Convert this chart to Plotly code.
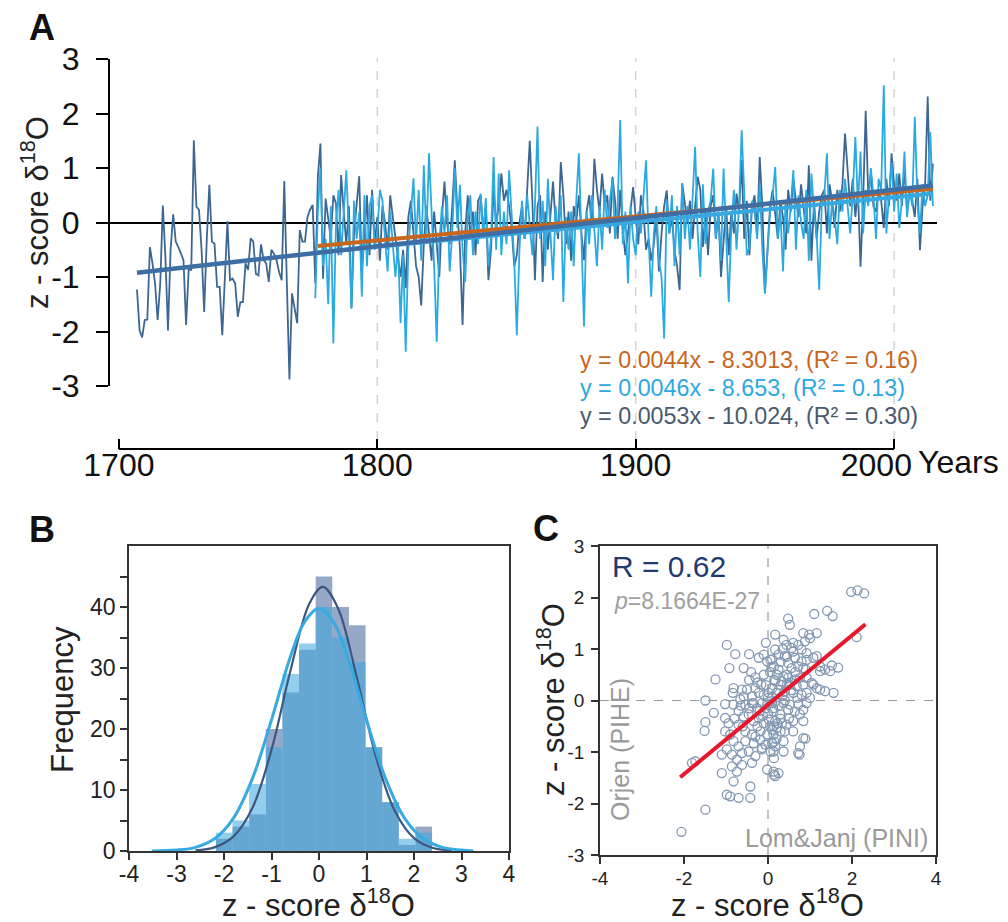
import plotly.graph_objects as go

# page body has an 8px margin, so the figure is 1000x914 and positions are shifted
OFF = 8
W, H = 1000, 914
FONT = "Liberation Sans, Arial, sans-serif"

# ---- panel A: annual z-scores of d18O ----
dark_start = 1707
dark_z = [
    -1.23, -1.98, -2.11, -1.79, -1.78, -0.45, -0.75, -1.12, -1.79, -1.12,
    0.31, -0.63, -1.98, -0.51, 0.15, -0.35, -0.45, -0.57, -0.69, -1.88,
    -0.87, -0.87, 1.51, 0.29, 0.23, -0.51, -1.64, -0.32, 0.69, -0.35,
    -0.39, -1.18, -1.18, -2.07, -1.12, 0.02, -1.06, -1.03, -1.12, -1.73,
    -1.46, -1.46, -0.75, -0.87, -0.29, -0.35, -0.94, -0.97, -0.40, -0.69,
    -0.75, -1.09, -0.50, -0.57, -0.69, -0.91, -1.06, 0.76, -1.12, -2.88,
    -1.30, -1.55, -1.85, -0.14, -0.35, -0.35, 0.10, 0.24, 0.32, -1.12,
    0.84, 1.45, -1.03, 0.44, 0.10,
    -0.3, 0.5, 0.35, -0.6, 0.87, 0.2, -0.4, 0.3,
    -1.57, -0.2, 0.4, 0.85, -0.9, -0.3, 0.5, -0.6, 0.6, -0.4,
    0.1, -0.7, 0.3, 0.0, -0.5, 0.5, 0.1, -0.3, -0.6, -1.0,
    -0.5, -1.2, 0.1, 0.4, -0.2, -0.8, -1.0, -1.52, -0.4, 0.3,
    -0.2, -0.7, 0.2, -0.5, -1.0, 0.1, 0.75, 0.0, -0.4, 0.3,
    1.14, 0.2, -0.5, -1.88, -0.2, 0.5, -0.3, 0.2, -0.6, 0.4,
    0.5, -0.2, 0.3, -1.06, -0.5, 0.6, 0.0, 0.3, 0.9, 0.4,
    0.6, 0.3, -0.1, -0.8, -0.6, 0.0, 0.3, -0.3, 0.7, 1.50,
    0.4, -1.06, 0.3, 0.5, -1.09, 0.2, -0.5, 0.1, 0.75, 0.0,
    -0.3, 1.11, 0.5, -0.4, 0.2, -0.7, 0.3, 0.0, 0.5, -0.2,
    -0.69, 0.2, 0.5, -0.1, 1.17, 0.6, 0.2, 0.9, 0.3, 0.5,
    -0.2, 0.84, 0.4, -0.3, 0.6, -0.14, -0.6, -0.2, 0.2, 0.65,
    0.1, -0.4, 0.5, 0.2, -0.5, -0.3, -0.7, -0.4, 0.1, -0.9,
    -0.2, 0.3, 0.59, -0.2, 0.1, -0.5, -0.8, -1.24, 0.72, 0.3,
    0.0, 0.4, -0.3, 0.3, 0.84, 0.6, -0.45, 0.2, -0.6, 0.3,
    0.5, -0.3, 0.2, -1.0, -0.4, 0.3, -0.6, 0.2, -0.2, 0.53,
    0.2, 1.14, -0.3, 0.4, -0.6, 0.3, 0.5, -0.2, 1.2, 0.3,
    -1.3, -0.4, 0.3, 0.6, 0.2, -0.3, 0.4, 0.1, -0.5, 0.6,
    0.2, 0.8, 0.4, 0.1, 0.7, 0.3, -0.2, 1.05, -0.7, 0.4,
    -0.3, 0.2, 0.5, 0.6, -0.2, 0.7, 0.4, -0.1, 0.6, 0.2,
    0.7, 1.63, 0.9, 0.3, 0.8, 0.1, 0.6, -0.81, 0.4, 2.05,
    0.5, 0.9, 0.3, 0.2, 0.6, 0.4, -0.1, 0.8, 0.3, 1.27,
    0.7, 0.4, 0.9, 0.3, 1.0, 0.2, 0.6, 0.4, 0.1, 0.8,
    -0.51, 0.3, 0.7, 2.31, 0.4, 1.08,
]
light_start = 1776
light_z = [
    -1.39, 0.2, 1.0, -0.8,
    -0.3, -1.5, 0.3, -2.22, 0.0, 0.6, -0.6, 0.2, 0.96, -0.2,
    -1.58, 0.4, -0.3, 0.2, -1.36, 0.5, -0.8, 0.3, 0.5, -0.5,
    -0.2, 0.6, 0.4, -0.3, -0.9, 0.2, -0.5, -1.0, -0.4, -1.85,
    -0.6, -2.37, -0.5, 0.2, 0.81, -0.4, 0.6, -0.7, 1.05, -0.3,
    1.27, 0.2, -0.8, -2.19, -0.4, 0.3, -0.2, 0.5, -0.9, -0.2,
    0.99, -0.1, 0.69, -0.5, -1.09, 0.1, 0.5, -0.6, 0.2, -0.4,
    0.53, -0.2, 0.45, -0.8, -0.3, 1.20, -0.5, 0.90, -0.6, 0.2,
    -0.4, 0.96, 0.1, -0.7, -2.07, -0.5, 0.4, -0.3, 0.5, -0.1,
    -0.6, 0.3, 1.76, -0.3, 0.4, -0.8, 0.8, -0.2, -1.06, 0.3,
    -0.2, 0.5, -1.46, 0.1, -0.5, 0.2, -0.8, 0.4, 1.27, -0.3,
    -1.91, 0.2, -0.4, 0.5, -0.2, -0.8, 0.3, -0.5, 0.6, -0.1,
    0.4, 0.8, -0.3, 0.3, 1.88, -0.4, 0.2, -1.12, 0.3, -0.3,
    -0.6, 0.2, -0.2, 0.5, 1.14, -0.3, -1.36, -0.2, 0.3, -0.7,
    -1.0, -2.13, 0.4, -0.2, 0.5, -0.8, 0.3, -0.6, 0.72, -0.3,
    0.3, -0.5, 0.5, 1.39, -0.2, -1.0, 0.7, -0.4, 0.2, 0.4,
    0.99, -0.3, 0.2, -0.7, 0.99, -0.2, -1.46, -0.1, 0.6, -0.5,
    0.3, 1.69, 0.6, -0.6, -0.45, 0.4, 0.2, -0.3, 0.7, -0.5,
    -1.30, -0.6, 0.2, 0.5, 1.02, -0.3, 0.2, -0.9, 0.4, -0.2,
    0.3, 0.96, -0.5, 0.5, 0.0, -0.3, 0.6, -0.7, 0.9, 0.2,
    -0.2, -1.24, 0.3, 0.5, 1.27, -0.3, 0.4, 0.1, -0.4, 0.6,
    0.2, 0.8, 0.3, -0.2, 0.5, 1.57, 0.3, 1.3, -0.2, 0.6,
    0.3, 1.0, 0.5, -0.3, 0.8, 0.6, 2.52, -0.2, 0.5, 1.1,
    0.2, 0.9, -0.1, 0.4, 1.3, 0.1, 0.6, 0.3, 1.94, 0.4,
    -0.2, 0.7, 0.3, 0.5, 1.66, 0.3,
]
dark_years = list(range(dark_start, dark_start + len(dark_z)))
light_years = list(range(light_start, light_start + len(light_z)))

# linear trends (end points)
trend_dark_years, trend_dark_z = [1707, 2015], [-0.92, 0.68]
trend_light_years, trend_light_z = [1777, 2015], [-0.55, 0.53]
trend_orange_years, trend_orange_z = [1777, 2015], [-0.43, 0.62]

year_ticks = [1700, 1800, 1900, 2000]
year_labels = ["1700", "1800", "1900", "2000\u00a0\u00a0\u00a0\u00a0"]

eq_orange = "y = 0.0044x - 8.3013, (R² = 0.16)"
eq_light = "y = 0.0046x - 8.653, (R² = 0.13)"
eq_dark = "y = 0.0053x - 10.024, (R² = 0.30)"

# ---- panel B: histograms + normal fits ----
bin_centers = [-1.995, -1.645, -1.295, -0.945, -0.595, -0.245, 0.105,
               0.455, 0.805, 1.155, 1.505, 1.855, 2.205]
counts_dark = [2, 4, 6, 20, 26, 33, 45, 40, 37, 17, 8, 1, 4]
counts_light = [3, 5, 11, 17, 29, 34, 40, 35, 31, 17, 8, 2, 3]

fit_dark_x = [-2.6, -2.2, -1.8, -1.4, -1.0, -0.6, -0.2, 0.08, 0.4, 0.8, 1.2, 1.6, 2.0, 2.4, 2.8]
fit_dark_y = [0.1, 0.6, 2.4, 7.1, 16.6, 29.6, 40.6, 43.3, 39.8, 28.3, 15.4, 6.5, 2.1, 0.5, 0.1]
fit_light_x = [-3.52, -3.0, -2.6, -2.2, -1.8, -1.4, -1.0, -0.6, -0.3, 0.0,
               0.3, 0.6, 1.0, 1.4, 1.8, 2.2, 2.6, 3.0, 3.25]
fit_light_y = [0.0, 0.15, 0.6, 2.0, 5.4, 11.9, 21.5, 31.9, 37.6, 39.8,
               37.6, 31.9, 21.5, 11.9, 5.4, 2.0, 0.6, 0.15, 0.0]

# ---- panel C: Lom&Janj (x) vs Orjen (y) ----
sc_x = [
    -0.98, -0.78, -0.92, -0.58, -0.45, -0.22, -0.10, -0.02, 0.06, 0.14, 0.17, -0.05,
    -1.25, -0.82, -0.84, -0.62, -0.50, -0.30, -0.16, -0.22, -0.38, -0.58, -0.10, 0.02, 0.10, 0.17,
    -1.49, -1.02, -0.82, -0.66, -0.54, -0.38, -0.26, -0.14, -0.02, 0.10,
    -1.29, -1.49, -1.51, -1.02, -0.94, -1.02, -0.90, -0.70, -0.58, -0.46, -0.34, -0.22, -0.10,
    0.02, 0.14, -0.54, -0.38, -0.18, -0.02, 0.10,
    -0.82, -0.70, -0.54, -0.34, -0.18, -0.06, 0.10,
    -1.10, -0.98, -0.86, -0.74, -0.62, -0.46, -0.30, -0.14, 0.06, 0.14,
    -1.81, -1.73, -1.10, -0.86, -0.74, -0.62, -0.38, -0.02, 0.14,
    -0.82, -0.42, -0.98, -0.90, -0.70, -0.42, -1.49, -2.06,
    1.98, 2.13, 2.29, 1.10, 1.41, 1.54, 0.48, 0.52, 0.84, 0.98, 1.16, 1.00, 0.88, 2.11,
    0.37, 0.44, 0.56, 0.60, 0.72, 0.80, 0.92, 1.08, 1.16, 0.17, 0.25, 0.40, 0.64, 0.80, 0.92,
    0.48, 0.56, 0.72, 0.84, 1.24, 1.36, 1.52, 1.67, 1.48, 1.24,
    0.21, 0.37, 0.48, 0.64, 0.76, 0.92, 1.04, 0.84, 0.68, 0.52, 0.33,
    1.08, 1.24, 1.36, 1.56, 1.16, 0.40, 0.60, 0.80, 0.92, 1.00,
    0.17, 0.37, 0.52, 0.72, 0.92, 0.48, 0.64, 0.84, 0.13, 0.29, 0.76,
    0.17, 0.33, 0.44, 0.60, 0.84, 0.21, 0.40, 0.37, 0.84, 0.13, 0.76, 0.72, 0.37, 0.17, 0.13,
    0.13, 0.25, 0.17, 0.89, 0.75,
    -0.30, -0.10, 0.05, 0.25, 0.30, 0.10, -0.05, 0.20, -0.20, 0.00, 0.25, 0.40, 0.55, 0.45,
    0.65, 0.30, 0.15, -0.45, -0.60, -0.25, 0.05, 0.30, -0.15, 0.50, 0.70, 0.90, 0.60, 0.35,
    0.10, -0.70, -0.80, -0.45, 0.00, 0.25, 0.45, 0.60, 0.30, -0.05, 0.15, -0.35,
    -0.25, 0.08, 0.35, -0.12, 0.22, -0.40, 0.45, 0.12, -0.65, 0.55, 0.20, -0.30,
]
sc_y = [
    1.08, 0.90, 0.63, 0.63, 0.90, 0.83, 0.89, 0.76, 0.79, 0.66, 1.28, 1.12,
    0.41, 0.24, 0.15, 0.21, 0.21, 0.24, 0.31, 0.15, 0.08, 0.08, 0.11, 0.15, 0.24, 0.37,
    0.00, -0.07, -0.08, 0.02, -0.08, -0.05, -0.15, -0.05, -0.08, -0.05,
    -0.24, -0.42, -0.59, -0.34, -0.44, -0.60, -0.66, -0.47, -0.31, -0.27, -0.40, -0.34, -0.44,
    -0.37, -0.50, -0.60, -0.66, -0.60, -0.66, -0.57,
    -0.79, -0.89, -0.79, -0.83, -0.76, -0.86, -0.83,
    -1.05, -0.95, -1.05, -1.15, -1.02, -0.99, -1.08, -0.92, -0.99, -1.12,
    -1.21, -1.18, -1.41, -1.28, -1.38, -1.25, -1.21, -1.34, -1.44,
    -1.57, -1.67, -1.83, -1.86, -1.89, -1.89, -2.12, -2.55,
    2.11, 2.14, 2.08, 1.68, 1.74, 1.64, 1.59, 1.47, 1.31, 1.28, 1.31, 1.21, 1.15, 1.23,
    1.18, 1.08, 1.02, 1.12, 1.08, 0.99, 0.92, 0.83, 0.86, 0.99, 0.89, 0.86, 0.83, 0.76, 0.79,
    0.73, 0.63, 0.66, 0.63, 0.66, 0.60, 0.68, 0.64, 0.57, 0.57,
    0.50, 0.47, 0.44, 0.41, 0.44, 0.44, 0.34, 0.31, 0.28, 0.31, 0.37,
    0.31, 0.21, 0.18, 0.15, 0.24, 0.18, 0.15, 0.11, 0.15, 0.05,
    -0.02, -0.05, -0.08, -0.08, -0.05, -0.18, -0.21, -0.18, -0.21, -0.27, -0.27,
    -0.40, -0.44, -0.47, -0.40, -0.40, -0.53, -0.60, -0.79, -0.73, -0.66, -0.89, -1.02, -0.99, -0.89, -0.99,
    -1.38, -1.41, -1.47, -0.74, -1.05,
    0.45, 0.50, 0.55, 0.60, 0.30, 0.05, 0.30, 0.15, -0.20, -0.25, -0.10, 0.00, 0.20, 0.50,
    0.55, 0.75, 0.40, -0.15, -0.50, -0.50, -0.50, -0.60, -0.95, -0.35, 0.05, 0.60, 0.95, 1.00,
    0.80, -0.20, -0.35, 0.40, 0.05, 0.20, 0.30, -0.60, -0.35, -0.15, -0.80, -0.05,
    0.35, 0.65, 0.10, -0.30, -0.45, 0.55, 0.85, -0.15, -0.10, 0.35, -0.75, -0.70,
]
reg_x = [-2.09, 2.32]
reg_y = [-1.49, 1.48]


def px_x(p):
    return (p - OFF) / W


def px_y(p):
    return 1 - (p - OFF) / H


fig = go.Figure()

# panel A traces
fig.add_trace(go.Scatter(x=dark_years, y=dark_z, mode="lines",
                         line=dict(color="#3d6793", width=1.8), xaxis="x", yaxis="y"))
fig.add_trace(go.Scatter(x=light_years, y=light_z, mode="lines",
                         line=dict(color="#2ba9e1", width=1.8), xaxis="x", yaxis="y"))
fig.add_trace(go.Scatter(x=trend_light_years, y=trend_light_z, mode="lines",
                         line=dict(color="#3aa8e0", width=4), xaxis="x", yaxis="y"))
fig.add_trace(go.Scatter(x=trend_orange_years, y=trend_orange_z, mode="lines",
                         line=dict(color="#c8661e", width=4), xaxis="x", yaxis="y"))
fig.add_trace(go.Scatter(x=trend_dark_years, y=trend_dark_z, mode="lines",
                         line=dict(color="#3f6ea5", width=4.5), xaxis="x", yaxis="y"))

# panel B traces
fig.add_trace(go.Bar(x=bin_centers, y=counts_dark, width=0.35,
                     marker=dict(color="#5f7aa8", opacity=0.65, line=dict(width=0)),
                     xaxis="x2", yaxis="y2"))
fig.add_trace(go.Bar(x=bin_centers, y=counts_light, width=0.35,
                     marker=dict(color="#3aa6de", opacity=0.55, line=dict(width=0)),
                     xaxis="x2", yaxis="y2"))
fig.add_trace(go.Scatter(x=fit_dark_x, y=fit_dark_y, mode="lines",
                         line=dict(color="#3d5880", width=2.2, shape="spline"),
                         xaxis="x2", yaxis="y2"))
fig.add_trace(go.Scatter(x=fit_light_x, y=fit_light_y, mode="lines",
                         line=dict(color="#36aae1", width=3, shape="spline"),
                         xaxis="x2", yaxis="y2"))

# panel C traces
fig.add_trace(go.Scatter(x=sc_x, y=sc_y, mode="markers",
                         marker=dict(symbol="circle-open", size=9,
                                     color="#8398b2", line=dict(width=1.3)),
                         xaxis="x3", yaxis="y3"))
fig.add_trace(go.Scatter(x=reg_x, y=reg_y, mode="lines",
                         line=dict(color="#e8182c", width=4), xaxis="x3", yaxis="y3"))

tick_font_a = dict(family=FONT, size=32, color="#111")
box = dict(showgrid=False, zeroline=False, showline=True, mirror=True,
           linecolor="#333", linewidth=1.5, automargin=False,
           ticks="outside", ticklen=7, tickwidth=1.5, tickcolor="#333")
fig.update_layout(
    width=W, height=H, margin=dict(l=0, r=0, t=0, b=0, autoexpand=False),
    paper_bgcolor="white", plot_bgcolor="white", showlegend=False,
    barmode="overlay", font=dict(family=FONT, color="#222"),
    xaxis=dict(domain=[px_x(109), px_x(936.7)], range=[1696.17, 2016.48],
               showgrid=False, zeroline=False, showline=False, automargin=False,
               ticks="inside", ticklen=10, tickwidth=2, tickcolor="black",
               tickvals=year_ticks, ticktext=year_labels,
               ticklabelstandoff=-6,
               tickfont=tick_font_a, anchor="y"),
    yaxis=dict(domain=[px_y(449), px_y(59)], range=[-4.156, 3],
               showgrid=False, showline=False, automargin=False,
               zeroline=True, zerolinecolor="black", zerolinewidth=1.6,
               ticks="outside", ticklen=12, tickwidth=2, tickcolor="black",
               tickvals=[-3, -2, -1, 0, 1, 2, 3],
               ticktext=["-3", "-2", "-1", "0", "1", "2", "3"],
               ticklabelstandoff=10,
               tickfont=tick_font_a, anchor="x"),
    xaxis2=dict(box, domain=[px_x(129), px_x(509)], range=[-4, 4], anchor="y2",
                tickvals=[-4, -3, -2, -1, 0, 1, 2, 3, 4],
                ticktext=["-4", "-3", "-2", "-1", "0", "1", "2", "3", "4"],
                ticklabelstandoff=-5,
                tickfont=dict(family=FONT, size=23, color="#222"), layer="below traces"),
    yaxis2=dict(box, domain=[px_y(851), px_y(546)], range=[0, 50], anchor="x2",
                tickvals=[0, 10, 20, 30, 40],
                minor=dict(tickvals=[5, 15, 25, 35, 45], ticks="outside",
                           ticklen=7, tickwidth=1.5, tickcolor="#333"),
                tickfont=dict(family=FONT, size=23, color="#222")),
    xaxis3=dict(box, domain=[px_x(600), px_x(936)], range=[-4, 4], anchor="y3",
                tickvals=[-4, -2, 0, 2, 4], ticktext=["-4", "-2", "0", "2", "4"],
                ticklabelstandoff=-2,
                tickfont=dict(family=FONT, size=19, color="#222")),
    yaxis3=dict(box, domain=[px_y(855), px_y(546)], range=[-3, 3], anchor="x3",
                tickvals=[-3, -2, -1, 0, 1, 2, 3],
                ticktext=["-3", "-2", "-1", "0", "1", "2", "3"],
                ticklabelstandoff=3,
                tickfont=dict(family=FONT, size=19, color="#222")),
)

shapes = []
# panel A axis lines (y line spans -3..3, x line spans 1700..2000)
shapes.append(dict(type="line", xref="x domain", yref="y", x0=0, x1=0, y0=-3, y1=3,
                   line=dict(color="black", width=2)))
shapes.append(dict(type="line", xref="x", yref="y domain", x0=1700, x1=2000, y0=0, y1=0,
                   line=dict(color="black", width=2)))
for yr in [1800, 1900, 2000]:
    shapes.append(dict(type="line", xref="x", yref="paper", x0=yr, x1=yr,
                       y0=px_y(440), y1=px_y(58), layer="below",
                       line=dict(color="#d4d4d4", width=1.5, dash="dash")))
# panel C reference lines
shapes.append(dict(type="line", xref="x3", yref="y3 domain", x0=0, x1=0, y0=0, y1=1,
                   layer="below", line=dict(color="#9a9a9a", width=1.2, dash="dash")))
shapes.append(dict(type="line", xref="x3 domain", yref="y3", x0=0, x1=1, y0=0, y1=0,
                   layer="below", line=dict(color="#9a9a9a", width=1.2, dash="dash")))
fig.update_layout(shapes=shapes)

title_font = dict(family=FONT, size=31, color="#222")
ztitle = "z - score δ<sup>18</sup>O"
panel_font = dict(family=FONT, size=36, color="#111")
ann = [
    dict(text="<b>A</b>", x=px_x(42), y=px_y(27), font=panel_font),
    dict(text="<b>B</b>", x=px_x(42), y=px_y(529), font=panel_font),
    dict(text="<b>C</b>", x=px_x(546), y=px_y(528), font=panel_font),
    dict(text=ztitle, x=px_x(35), y=px_y(213), textangle=-90, font=title_font),
    dict(text="Years", x=px_x(916), y=px_y(462), xanchor="left",
         font=dict(family=FONT, size=32, color="#111")),
    dict(text=eq_orange, x=px_x(578), y=px_y(360), xanchor="left",
         font=dict(family=FONT, size=23.3, color="#c8661e")),
    dict(text=eq_light, x=px_x(578), y=px_y(388), xanchor="left",
         font=dict(family=FONT, size=23.3, color="#2ea8df")),
    dict(text=eq_dark, x=px_x(578), y=px_y(416), xanchor="left",
         font=dict(family=FONT, size=23.3, color="#4a5a6e")),
    dict(text="Frequency", x=px_x(62), y=px_y(700), textangle=-90, font=title_font),
    dict(text=ztitle, x=px_x(318), y=px_y(903), font=title_font),
    dict(text=ztitle, x=px_x(551), y=px_y(700), textangle=-90, font=title_font),
    dict(text=ztitle, x=px_x(767), y=px_y(903), font=title_font),
    dict(text="R = 0.62", x=px_x(610), y=px_y(566), xanchor="left",
         font=dict(family=FONT, size=30, color="#1f3b70")),
    dict(text="<i>p</i>=8.1664E-27", x=px_x(612), y=px_y(601), xanchor="left",
         font=dict(family=FONT, size=23, color="#a0a0a0")),
    dict(text="Orjen (PIHE)", x=px_x(620), y=px_y(750), textangle=-90,
         font=dict(family=FONT, size=25, color="#9a9a9a")),
    dict(text="Lom&amp;Janj (PINI)", x=px_x(930), y=px_y(838), xanchor="right",
         font=dict(family=FONT, size=25, color="#9a9a9a")),
]
for a in ann:
    a.setdefault("xref", "paper")
    a.setdefault("yref", "paper")
    a.setdefault("xanchor", "center")
    a.setdefault("yanchor", "middle")
    a.setdefault("showarrow", False)
fig.update_layout(annotations=ann)

fig.write_html("out.html")
